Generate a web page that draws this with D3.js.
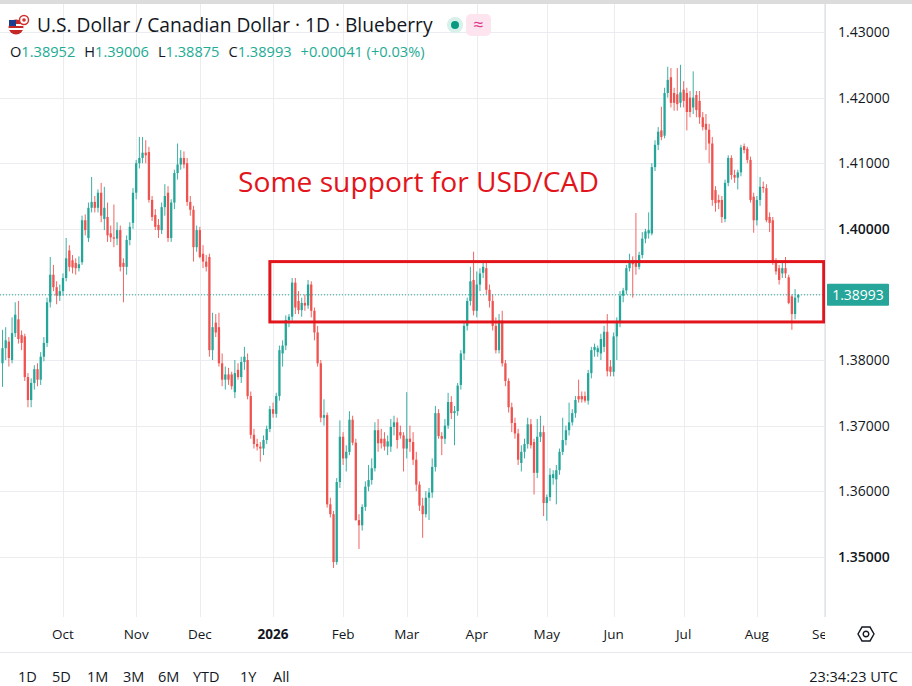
<!DOCTYPE html>
<html lang="en">
<head>
<meta charset="UTF-8">
<title>USD/CAD 1D</title>
<script src="https://d3js.org/d3.v7.min.js"></script>
<style>
  html, body { margin: 0; padding: 0; background: #ffffff; }
  body { width: 912px; height: 686px; overflow: hidden; }
  svg text { font-family: "Open Sans", "Noto Sans", sans-serif; }
</style>
</head>
<body>
<svg id="chart" width="912" height="686"></svg>
<script>
// daily candles [open, high, low, close], one small list per month
const firstDay = "2025-09-04";
const lastAxisDay = "2026-09-08";

const sep25 = [
  [1.3795,1.3846,1.3759,1.3818],[1.3818,1.3850,1.3800,1.3830],[1.3828,1.3835,1.3790,1.3803],
  [1.3800,1.3865,1.3795,1.3841],[1.3841,1.3888,1.3835,1.3869],[1.3862,1.3890,1.3825,1.3832],
  [1.3838,1.3845,1.3815,1.3826],[1.3836,1.3840,1.3768,1.3774],[1.3774,1.3780,1.3728,1.3739],
  [1.3739,1.3772,1.3728,1.3765],[1.3765,1.3792,1.3755,1.3786],[1.3786,1.3795,1.3760,1.3770],
  [1.3770,1.3812,1.3762,1.3805],[1.3805,1.3835,1.3798,1.3826],[1.3826,1.3895,1.3820,1.3888],
  [1.3888,1.3957,1.3880,1.3930],[1.3930,1.3945,1.3905,1.3911],[1.3911,1.3920,1.3885,1.3898],
  [1.3898,1.3915,1.3890,1.3905]
];
const oct25 = [
  [1.3905,1.3932,1.3898,1.3925],[1.3925,1.3986,1.3920,1.3955],[1.3967,1.3975,1.3935,1.3942],
  [1.3952,1.3960,1.3932,1.3941],[1.3948,1.3955,1.3930,1.3940],[1.3940,1.3958,1.3935,1.3946],
  [1.3949,1.4020,1.3945,1.4013],[1.4013,1.4022,1.3990,1.3998],[1.3986,1.4040,1.3980,1.4032],
  [1.4032,1.4079,1.4025,1.4041],[1.4041,1.4050,1.4025,1.4032],[1.4032,1.4060,1.4025,1.4055],
  [1.4055,1.4070,1.4010,1.4020],[1.4015,1.4064,1.3998,1.4032],[1.4018,1.4040,1.3980,1.3990],
  [1.3993,1.4005,1.3980,1.3987],[1.3987,1.4037,1.3972,1.3985],[1.3985,1.4010,1.3975,1.3998],
  [1.3998,1.4005,1.3935,1.3942],[1.3948,1.3955,1.3888,1.3942],[1.3942,1.3990,1.3930,1.3983],
  [1.3983,1.4010,1.3975,1.4003],[1.4009,1.4062,1.4000,1.4055]
];
const nov25 = [
  [1.4055,1.4105,1.4045,1.4100],[1.4100,1.4140,1.4092,1.4108],[1.4108,1.4140,1.4100,1.4116],
  [1.4116,1.4135,1.4100,1.4112],[1.4117,1.4125,1.4040,1.4044],[1.4044,1.4050,1.4012,1.4018],
  [1.4021,1.4030,1.3998,1.4003],[1.4006,1.4015,1.3986,1.3998],[1.3998,1.4040,1.3992,1.4033],
  [1.4033,1.4068,1.4020,1.4050],[1.4055,1.4065,1.3980,1.3986],[1.3986,1.4045,1.3980,1.4040],
  [1.4040,1.4090,1.4030,1.4085],[1.4085,1.4130,1.4075,1.4098],[1.4098,1.4120,1.4090,1.4108],
  [1.4108,1.4118,1.4092,1.4098],[1.4100,1.4108,1.4035,1.4041],[1.4041,1.4050,1.4020,1.4029],
  [1.4029,1.4035,1.3950,1.3972],[1.3972,1.4005,1.3965,1.3998]
];
const dec25 = [
  [1.3998,1.4003,1.3955,1.3957],[1.3962,1.3975,1.3940,1.3950],[1.3950,1.3960,1.3935,1.3942],
  [1.3957,1.3962,1.3805,1.3815],[1.3815,1.3872,1.3800,1.3850],[1.3857,1.3870,1.3835,1.3842],
  [1.3850,1.3872,1.3790,1.3795],[1.3795,1.3810,1.3760,1.3770],[1.3770,1.3790,1.3755,1.3778],
  [1.3778,1.3788,1.3762,1.3770],[1.3778,1.3782,1.3755,1.3760],[1.3751,1.3800,1.3742,1.3780],
  [1.3785,1.3795,1.3770,1.3774],[1.3774,1.3805,1.3765,1.3797],[1.3797,1.3820,1.3785,1.3805],
  [1.3800,1.3810,1.3740,1.3745],[1.3745,1.3752,1.3680,1.3686],[1.3686,1.3695,1.3665,1.3672],
  [1.3672,1.3680,1.3662,1.3668],[1.3668,1.3675,1.3645,1.3665],[1.3665,1.3685,1.3655,1.3678],
  [1.3678,1.3700,1.3672,1.3695],[1.3695,1.3730,1.3690,1.3725]
];
const jan26 = [
  [1.3725,1.3735,1.3712,1.3718],[1.3718,1.3750,1.3712,1.3745],[1.3745,1.3822,1.3738,1.3815],
  [1.3810,1.3830,1.3790,1.3822],[1.3822,1.3868,1.3815,1.3861],[1.3861,1.3870,1.3850,1.3866],
  [1.3866,1.3925,1.3860,1.3918],[1.3918,1.3925,1.3870,1.3880],[1.3890,1.3905,1.3870,1.3876],
  [1.3876,1.3895,1.3866,1.3887],[1.3887,1.3900,1.3875,1.3883],[1.3883,1.3922,1.3878,1.3915],
  [1.3915,1.3920,1.3865,1.3875],[1.3875,1.3880,1.3830,1.3842],[1.3842,1.3852,1.3790,1.3795],
  [1.3795,1.3800,1.3705,1.3712],[1.3712,1.3740,1.3700,1.3716],[1.3716,1.3720,1.3575,1.3580],
  [1.3580,1.3590,1.3560,1.3565],[1.3565,1.3570,1.3483,1.3492],[1.3492,1.3620,1.3488,1.3614],
  [1.3614,1.3708,1.3605,1.3683]
];
const feb26 = [
  [1.3683,1.3690,1.3640,1.3650],[1.3650,1.3670,1.3630,1.3660],[1.3660,1.3722,1.3655,1.3709],
  [1.3709,1.3715,1.3670,1.3674],[1.3674,1.3680,1.3555,1.3556],[1.3556,1.3565,1.3512,1.3548],
  [1.3548,1.3580,1.3540,1.3576],[1.3576,1.3615,1.3570,1.3607],[1.3607,1.3640,1.3600,1.3617],
  [1.3617,1.3650,1.3610,1.3635],[1.3635,1.3705,1.3630,1.3693],[1.3693,1.3710,1.3660,1.3673],
  [1.3680,1.3695,1.3665,1.3673],[1.3680,1.3690,1.3662,1.3668],[1.3668,1.3685,1.3655,1.3676],
  [1.3668,1.3710,1.3660,1.3698],[1.3698,1.3715,1.3685,1.3705],[1.3705,1.3712,1.3665,1.3678],
  [1.3690,1.3700,1.3680,1.3685],[1.3685,1.3690,1.3630,1.3665]
];
const mar26 = [
  [1.3665,1.3751,1.3650,1.3680],[1.3680,1.3700,1.3660,1.3675],[1.3675,1.3690,1.3640,1.3648],
  [1.3648,1.3660,1.3600,1.3610],[1.3610,1.3615,1.3570,1.3578],[1.3578,1.3590,1.3529,1.3565],
  [1.3565,1.3600,1.3560,1.3590],[1.3590,1.3605,1.3556,1.3598],[1.3598,1.3650,1.3590,1.3637],
  [1.3637,1.3730,1.3630,1.3719],[1.3719,1.3725,1.3680,1.3684],[1.3684,1.3690,1.3655,1.3680],
  [1.3680,1.3710,1.3672,1.3700],[1.3700,1.3750,1.3695,1.3736],[1.3736,1.3745,1.3710,1.3719],
  [1.3719,1.3730,1.3670,1.3722],[1.3722,1.3765,1.3715,1.3761],[1.3762,1.3815,1.3755,1.3810],
  [1.3810,1.3858,1.3800,1.3852],[1.3852,1.3895,1.3845,1.3890],[1.3890,1.3942,1.3883,1.3920],
  [1.3922,1.3965,1.3868,1.3875]
];
const apr26 = [
  [1.3875,1.3935,1.3865,1.3915],[1.3915,1.3940,1.3905,1.3932],[1.3933,1.3950,1.3925,1.3942],
  [1.3940,1.3948,1.3900,1.3907],[1.3907,1.3915,1.3880,1.3890],[1.3890,1.3900,1.3845,1.3852],
  [1.3852,1.3865,1.3810,1.3815],[1.3815,1.3870,1.3810,1.3860],[1.3860,1.3875,1.3790,1.3795],
  [1.3795,1.3800,1.3760,1.3768],[1.3768,1.3772,1.3720,1.3728],[1.3728,1.3735,1.3690,1.3704],
  [1.3704,1.3712,1.3680,1.3688],[1.3688,1.3695,1.3640,1.3648],[1.3643,1.3670,1.3630,1.3660],
  [1.3660,1.3680,1.3650,1.3672],[1.3672,1.3712,1.3665,1.3702],[1.3702,1.3710,1.3665,1.3670],
  [1.3675,1.3680,1.3595,1.3628],[1.3628,1.3710,1.3620,1.3683],[1.3683,1.3715,1.3675,1.3690],
  [1.3690,1.3700,1.3562,1.3582]
];
const may26 = [
  [1.3582,1.3595,1.3555,1.3591],[1.3591,1.3635,1.3585,1.3625],[1.3620,1.3632,1.3610,1.3626],
  [1.3618,1.3640,1.3580,1.3632],[1.3632,1.3665,1.3625,1.3660],[1.3660,1.3712,1.3655,1.3678],
  [1.3678,1.3700,1.3670,1.3693],[1.3693,1.3735,1.3685,1.3705],[1.3705,1.3725,1.3700,1.3719],
  [1.3719,1.3745,1.3712,1.3739],[1.3745,1.3770,1.3735,1.3740],[1.3745,1.3752,1.3735,1.3740],
  [1.3745,1.3752,1.3735,1.3738],[1.3738,1.3785,1.3732,1.3780],[1.3780,1.3820,1.3772,1.3815],
  [1.3815,1.3825,1.3805,1.3820],[1.3812,1.3822,1.3805,1.3818],[1.3810,1.3840,1.3800,1.3832],
  [1.3820,1.3852,1.3812,1.3843],[1.3843,1.3870,1.3775,1.3783],[1.3790,1.3800,1.3775,1.3782]
];
const jun26 = [
  [1.3782,1.3842,1.3775,1.3836],[1.3836,1.3865,1.3800,1.3858],[1.3858,1.3905,1.3850,1.3898],
  [1.3898,1.3910,1.3888,1.3906],[1.3906,1.3945,1.3900,1.3940],[1.3940,1.3962,1.3935,1.3950],
  [1.3952,1.3958,1.3895,1.3946],[1.3952,1.4024,1.3930,1.3942],[1.3942,1.3965,1.3938,1.3960],
  [1.3960,1.3995,1.3955,1.3985],[1.3985,1.4000,1.3978,1.3996],[1.3993,1.4025,1.3985,1.3998],
  [1.3993,1.4100,1.3990,1.4094],[1.4094,1.4135,1.4088,1.4128],[1.4128,1.4155,1.4120,1.4148],
  [1.4150,1.4186,1.4135,1.4140],[1.4142,1.4215,1.4138,1.4207],[1.4207,1.4247,1.4200,1.4227],
  [1.4231,1.4245,1.4185,1.4192],[1.4207,1.4215,1.4180,1.4192],[1.4205,1.4245,1.4180,1.4190],
  [1.4192,1.4250,1.4185,1.4208]
];
const jul26 = [
  [1.4212,1.4225,1.4185,1.4195],[1.4207,1.4215,1.4150,1.4178],[1.4200,1.4210,1.4170,1.4178],
  [1.4185,1.4240,1.4175,1.4200],[1.4204,1.4210,1.4170,1.4181],[1.4195,1.4210,1.4160,1.4170],
  [1.4170,1.4178,1.4150,1.4155],[1.4160,1.4175,1.4120,1.4151],[1.4151,1.4160,1.4100,1.4130],
  [1.4130,1.4140,1.4035,1.4044],[1.4059,1.4065,1.4026,1.4039],[1.4044,1.4052,1.4030,1.4040],
  [1.4044,1.4050,1.4009,1.4018],[1.4015,1.4075,1.4010,1.4070],[1.4070,1.4112,1.4065,1.4108],
  [1.4108,1.4112,1.4075,1.4082],[1.4082,1.4090,1.4070,1.4078],[1.4078,1.4090,1.4060,1.4086],
  [1.4086,1.4128,1.4080,1.4124],[1.4126,1.4130,1.4115,1.4120],[1.4122,1.4125,1.4100,1.4105],
  [1.4105,1.4110,1.4040,1.4044],[1.4049,1.4055,1.3994,1.4013]
];
const aug26 = [
  [1.4013,1.4050,1.4005,1.4044],[1.4044,1.4079,1.4035,1.4064],[1.4064,1.4072,1.4055,1.4062],
  [1.4062,1.4068,1.4010,1.4013],[1.4018,1.4025,1.3995,1.4009],[1.4013,1.4018,1.3945,1.3948],
  [1.3950,1.3955,1.3930,1.3935],[1.3940,1.3945,1.3915,1.3922],[1.3932,1.3948,1.3925,1.3940],
  [1.3940,1.3957,1.3925,1.3932],[1.3926,1.3930,1.3885,1.3887],[1.3897,1.3900,1.3846,1.3870],
  [1.3870,1.3908,1.3862,1.3895],[1.38952,1.39006,1.38875,1.38993]
];

const priceTicks = [1.35, 1.36, 1.37, 1.38, 1.39, 1.40, 1.41, 1.42, 1.43];
const monthLabels = ["Oct", "Nov", "Dec", "2026", "Feb", "Mar", "Apr", "May", "Jun", "Jul", "Aug", "Sep"];
const rangeButtons = ["1D", "5D", "1M", "3M", "6M", "YTD", "1Y", "All"];
const lastPrice = 1.38993;
const zone = { from: "2025-12-31", to: "2026-09-01", top: 1.3950, bottom: 1.3858 };
const note = { text: "Some support for USD/CAD", date: "2025-12-17", price: 1.4056 };
const ohlcLegend = [["O", "1.38952"], ["H", "1.39006"], ["L", "1.38875"], ["C", "1.38993"], ["", "+0.00041 (+0.03%)"]];

const UP = "#26a69a", DOWN = "#ef5350", INK = "#131722", GRID = "#eaecf0", NOTE_RED = "#e3151c";

const svg = d3.select("#chart");
const plotRight = 825, plotTop = 4, plotBottom = 617;

const parseDay = d3.utcParse("%Y-%m-%d");
const dayKey = d3.utcFormat("%Y-%m-%d");
const days = d3.utcDays(parseDay(firstDay), parseDay(lastAxisDay))
  .filter(d => d.getUTCDay() !== 0 && d.getUTCDay() !== 6);
const keys = days.map(dayKey);

const ohlc = [].concat(sep25, oct25, nov25, dec25, jan26, feb26, mar26, apr26, may26, jun26, jul26, aug26);
const candles = ohlc.map((r, i) => ({ date: keys[i], open: r[0], high: r[1], low: r[2], close: r[3] }));

const step = 3.183;
const x = d3.scaleBand()
  .domain(keys)
  .range([2.5 - step / 2, 2.5 - step / 2 + keys.length * step])
  .paddingInner(0).paddingOuter(0);
const cx = k => x(k) + x.bandwidth() / 2;

const y = d3.scaleLinear().domain([1.35, 1.43]).range([556.8, 32]);

// background + frame
svg.append("rect").attr("width", 912).attr("height", 686).attr("fill", "#fff");
svg.append("rect").attr("width", 912).attr("height", 4).attr("fill", "#dcdcdc");

const defs = svg.append("defs");
defs.append("clipPath").attr("id", "plotClip").append("rect")
  .attr("x", 0).attr("y", plotTop).attr("width", plotRight).attr("height", plotBottom - plotTop);
defs.append("clipPath").attr("id", "timeClip").append("rect")
  .attr("x", 0).attr("y", plotBottom).attr("width", plotRight).attr("height", 40);

const monthStarts = keys.filter((k, i) => i > 0 && k.slice(0, 7) !== keys[i - 1].slice(0, 7));

// grid
const grid = svg.append("g").attr("clip-path", "url(#plotClip)");
grid.selectAll(".hgrid").data(priceTicks).enter().append("line")
  .attr("x1", 0).attr("x2", plotRight)
  .attr("y1", d => Math.round(y(d)) + 0.5).attr("y2", d => Math.round(y(d)) + 0.5)
  .attr("stroke", GRID).attr("stroke-width", 1);
grid.selectAll(".vgrid").data(monthStarts).enter().append("line")
  .attr("x1", d => Math.round(cx(d)) + 0.5).attr("x2", d => Math.round(cx(d)) + 0.5)
  .attr("y1", plotTop).attr("y2", plotBottom)
  .attr("stroke", GRID).attr("stroke-width", 1);

// candles
const plot = svg.append("g").attr("clip-path", "url(#plotClip)");
const bodyW = x.bandwidth() * 0.72;
const candle = plot.selectAll(".candle").data(candles).enter().append("g")
  .attr("fill", d => d.close >= d.open ? UP : DOWN)
  .attr("stroke", d => d.close >= d.open ? UP : DOWN);
candle.append("line")
  .attr("x1", d => cx(d.date)).attr("x2", d => cx(d.date))
  .attr("y1", d => y(d.high)).attr("y2", d => y(d.low))
  .attr("stroke-width", 0.9);
candle.append("rect")
  .attr("x", d => cx(d.date) - bodyW / 2)
  .attr("width", bodyW)
  .attr("y", d => y(Math.max(d.open, d.close)))
  .attr("height", d => Math.max(1, Math.abs(y(d.open) - y(d.close))))
  .attr("stroke", "none");

// last price dotted line
plot.append("line")
  .attr("x1", 0).attr("x2", plotRight)
  .attr("y1", y(lastPrice)).attr("y2", y(lastPrice))
  .attr("stroke", UP).attr("stroke-width", 1).attr("stroke-dasharray", "1,2");

// support zone
plot.append("rect")
  .attr("x", cx(zone.from)).attr("y", y(zone.top))
  .attr("width", cx(zone.to) - cx(zone.from))
  .attr("height", y(zone.bottom) - y(zone.top))
  .attr("fill", "none").attr("stroke", NOTE_RED).attr("stroke-width", 3);

plot.append("text")
  .attr("x", cx(note.date)).attr("y", y(note.price))
  .attr("font-size", 28.2).attr("fill", NOTE_RED)
  .text(note.text);

// axis borders
svg.append("line").attr("x1", plotRight + 0.5).attr("x2", plotRight + 0.5)
  .attr("y1", plotTop).attr("y2", plotBottom).attr("stroke", "#e0e3eb");
svg.append("line").attr("x1", 0).attr("x2", 912)
  .attr("y1", 652.5).attr("y2", 652.5).attr("stroke", "#e6e8ee");

// price axis
svg.selectAll(".ptick").data(priceTicks.filter(p => p !== 1.39)).enter().append("text")
  .attr("x", 838).attr("y", d => y(d) + 5)
  .attr("font-size", 14).attr("fill", INK)
  .attr("font-weight", d => Math.abs(d * 100 % 5) < 1e-6 || Math.abs(d * 100 % 5 - 5) < 1e-6 ? 600 : 400)
  .text(d => d.toFixed(5));

svg.append("rect")
  .attr("x", 827).attr("y", y(lastPrice) - 11).attr("width", 62).attr("height", 22)
  .attr("rx", 1).attr("fill", UP);
svg.append("text")
  .attr("x", 858).attr("y", y(lastPrice) + 5).attr("text-anchor", "middle")
  .attr("font-size", 14).attr("fill", "#fff")
  .text(lastPrice.toFixed(5));

// time axis
svg.append("g").attr("clip-path", "url(#timeClip)")
  .selectAll("text").data(monthStarts).enter().append("text")
  .attr("x", d => cx(d)).attr("y", 639).attr("text-anchor", "middle")
  .attr("font-size", 13.5).attr("fill", INK)
  .attr("font-weight", (d, i) => monthLabels[i] === "2026" ? 700 : 400)
  .text((d, i) => monthLabels[i]);

// settings icon
const gear = svg.append("g").attr("transform", "translate(866,634)")
  .attr("fill", "none").attr("stroke", INK).attr("stroke-width", 1.4);
gear.append("path").attr("d", d3.range(6).map((i, j) => {
  const a = Math.PI / 3 * i;
  return (j ? "L" : "M") + (8 * Math.cos(a)).toFixed(2) + "," + (8 * Math.sin(a)).toFixed(2);
}).join("") + "Z");
gear.append("circle").attr("r", 2.8);

// bottom toolbar
const btnX = [18, 52, 87, 123, 158, 193, 240, 273];
svg.selectAll(".btn").data(rangeButtons).enter().append("text")
  .attr("x", (d, i) => btnX[i]).attr("y", 682)
  .attr("font-size", 14.5).attr("fill", INK)
  .text(d => d);
svg.append("text").attr("x", 898).attr("y", 682).attr("text-anchor", "end")
  .attr("font-size", 14.5).attr("fill", INK).text("23:34:23 UTC");

// header
const icon = svg.append("g").attr("transform", "translate(19,25)");
icon.append("circle").attr("cx", -3).attr("cy", 2).attr("r", 7.5).attr("fill", "#c62828");
icon.append("rect").attr("x", -10.5).attr("y", -1).attr("width", 15).attr("height", 2).attr("fill", "#fff");
icon.append("rect").attr("x", -10.5).attr("y", 3).attr("width", 15).attr("height", 2).attr("fill", "#fff");
icon.append("rect").attr("x", -10).attr("y", -5).attr("width", 7).attr("height", 6).attr("fill", "#1e3c8c");
icon.append("circle").attr("cx", 5).attr("cy", -5).attr("r", 4.5).attr("fill", "#fff").attr("stroke", "#d32f2f").attr("stroke-width", 1.5);
icon.append("circle").attr("cx", 5).attr("cy", -5).attr("r", 1.8).attr("fill", "#d32f2f");

svg.append("text").attr("x", 37).attr("y", 32)
  .attr("font-size", 19.2).attr("fill", INK)
  .text("U.S. Dollar / Canadian Dollar · 1D · Blueberry");

svg.append("circle").attr("cx", 455).attr("cy", 25).attr("r", 8).attr("fill", "#d7f0ea");
svg.append("circle").attr("cx", 455).attr("cy", 25).attr("r", 4).attr("fill", "#089981");
svg.append("rect").attr("x", 466).attr("y", 14).attr("width", 25).attr("height", 22).attr("rx", 5).attr("fill", "#fde4ef");
svg.append("text").attr("x", 478.5).attr("y", 31).attr("text-anchor", "middle")
  .attr("font-size", 18).attr("fill", "#e0388a").text("≈");

// OHLC legend, each group placed after the previous one's measured width
const legend = svg.append("g").attr("font-size", 14.6);
let lx = 10;
ohlcLegend.forEach(p => {
  const t = legend.append("text").attr("x", lx).attr("y", 57);
  t.append("tspan").attr("fill", INK).text(p[0]);
  t.append("tspan").attr("fill", "#22ab94").text(p[1]);
  lx += t.node().getComputedTextLength() + 9;
});
</script>
</body>
</html>
